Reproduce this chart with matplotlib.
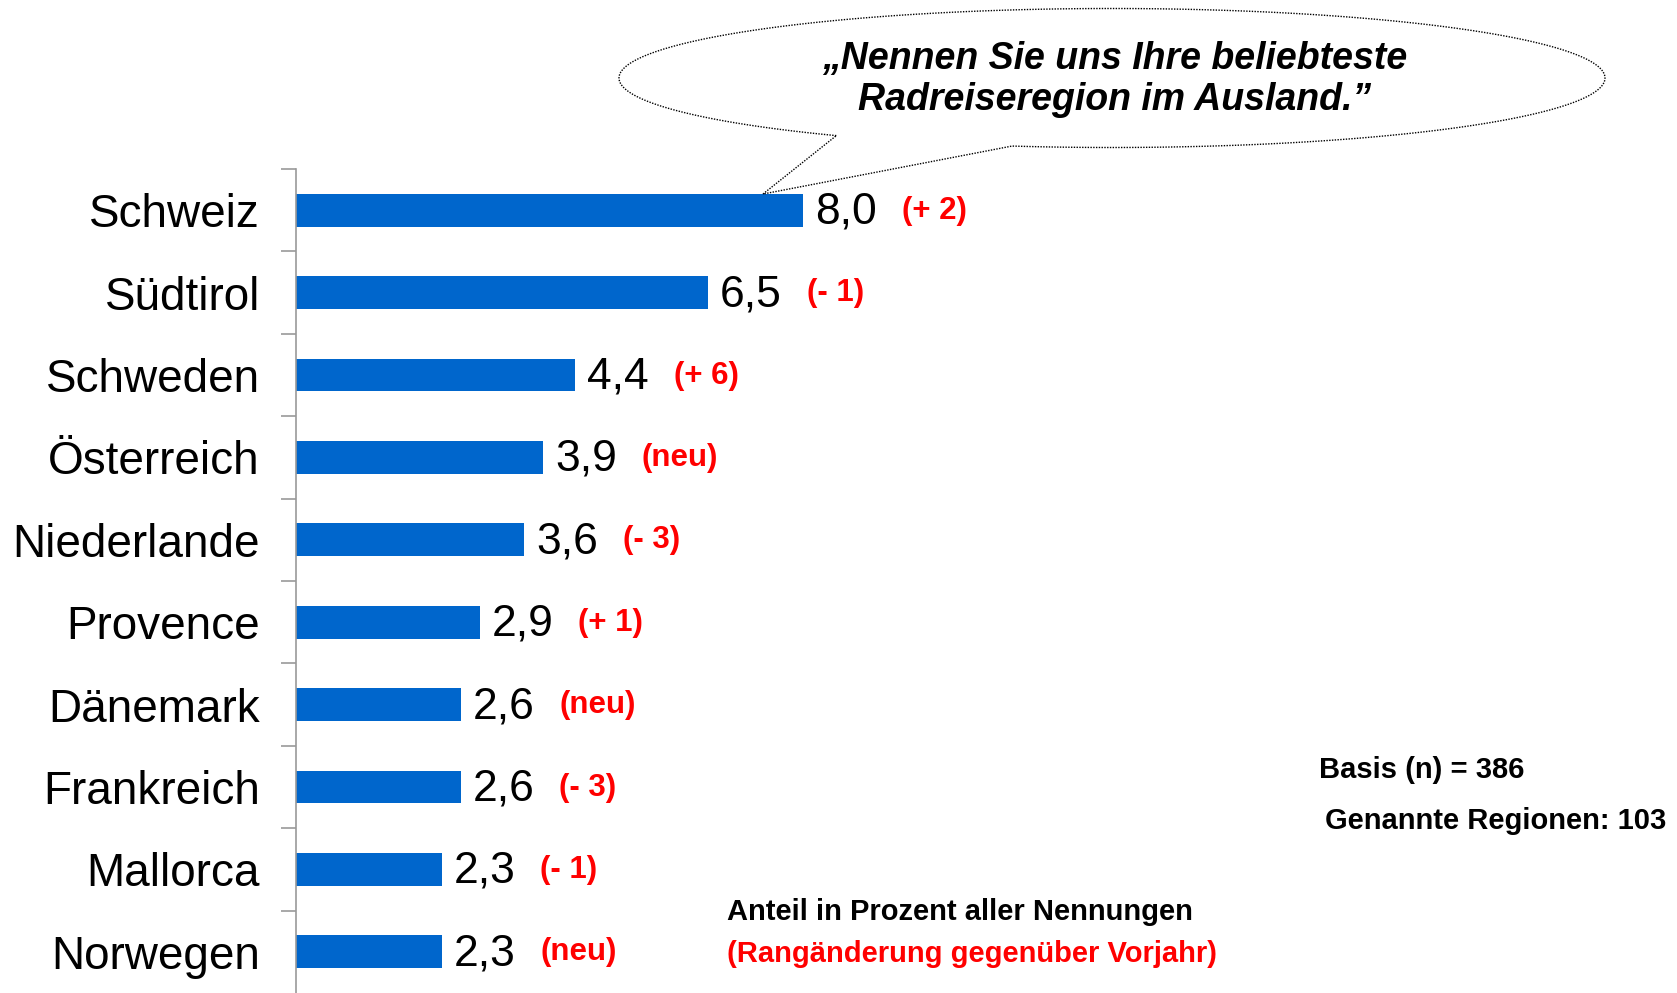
import numpy as np
import matplotlib.pyplot as plt
from matplotlib.path import Path
from matplotlib.patches import PathPatch

plt.rcParams['font.family'] = ['Liberation Sans', 'DejaVu Sans']

# data
regions = ["Schweiz", "Südtirol", "Schweden", "Österreich", "Niederlande",
           "Provence", "Dänemark", "Frankreich", "Mallorca", "Norwegen"]
shares = [8.0, 6.5, 4.4, 3.9, 3.6, 2.9, 2.6, 2.6, 2.3, 2.3]
rank_change = ["(+ 2)", "(- 1)", "(+ 6)", "(neu)", "(- 3)",
               "(+ 1)", "(neu)", "(- 3)", "(- 1)", "(neu)"]

bar_color = "#0066CC"
red = "#FF0000"

fig = plt.figure(figsize=(16.77, 9.93), dpi=100)

# main bar axes
ax = fig.add_axes([296 / 1677, 0.0, 1268 / 1677, 1 - 169 / 993])
y = np.arange(len(regions))
ax.barh(y, shares, height=0.4, color=bar_color)
ax.set_xlim(0, 20)
ax.set_ylim(len(regions) - 0.5, -0.5)

for i, (v, r) in enumerate(zip(shares, rank_change)):
    ax.annotate(f"{v:.1f}".replace(".", ","), xy=(v, i), xytext=(8.5, -1.5),
                textcoords="offset points", va="center", ha="left",
                fontsize=32, color="black")
    ax.annotate(r, xy=(v, i), xytext=(71, -0.5), textcoords="offset points",
                va="center", ha="left", fontsize=22.5, fontweight="bold", color=red)

# axis look: only a grey left spine with boundary ticks
for s in ["top", "right", "bottom"]:
    ax.spines[s].set_visible(False)
ax.spines["left"].set_color("#999999")
ax.spines["left"].set_linewidth(1.2)
ax.set_xticks([])
ax.set_yticks(y)
ax.set_yticklabels(regions, fontsize=33)
ax.tick_params(axis="y", which="major", length=0, pad=26)
ax.set_yticks(np.arange(-0.5, len(regions) - 0.5, 1.0), minor=True)
ax.tick_params(axis="y", which="minor", length=11, width=1.2, color="#999999")

# overlay in pixel coordinates for the speech bubble and notes
ov = fig.add_axes([0, 0, 1, 1])
ov.set_xlim(0, 1677)
ov.set_ylim(993, 0)
ov.axis("off")

cx, cy, a, b = 1112, 78, 493, 69.5
t1, t2 = np.deg2rad(124), np.deg2rad(101.7 + 360)
t = np.linspace(t1, t2, 400)
pts = np.column_stack([cx + a * np.cos(t), cy + b * np.sin(t)])
pts = np.vstack([pts, [763, 194], pts[0]])
codes = [Path.MOVETO] + [Path.LINETO] * (len(pts) - 2) + [Path.CLOSEPOLY]
bubble = PathPatch(Path(pts, codes), facecolor="white", edgecolor="black",
                   linestyle=(0, (1, 1)), linewidth=1.0)
ov.add_patch(bubble)
ov.text(1115, 59, "„Nennen Sie uns Ihre beliebteste", ha="center", va="center",
        fontsize=27, fontweight="bold", fontstyle="italic")
ov.text(1115, 100, "Radreiseregion im Ausland.”", ha="center", va="center",
        fontsize=27, fontweight="bold", fontstyle="italic")

ov.text(1319, 770, "Basis (n) = 386", ha="left", va="center",
        fontsize=21, fontweight="bold")
ov.text(1325, 821, "Genannte Regionen: 103", ha="left", va="center",
        fontsize=21, fontweight="bold")
ov.text(727, 912, "Anteil in Prozent aller Nennungen", ha="left", va="center",
        fontsize=21, fontweight="bold")
ov.text(727, 954, "(Rangänderung gegenüber Vorjahr)", ha="left", va="center",
        fontsize=21, fontweight="bold", color=red)

fig.savefig("out.png", dpi=100)
